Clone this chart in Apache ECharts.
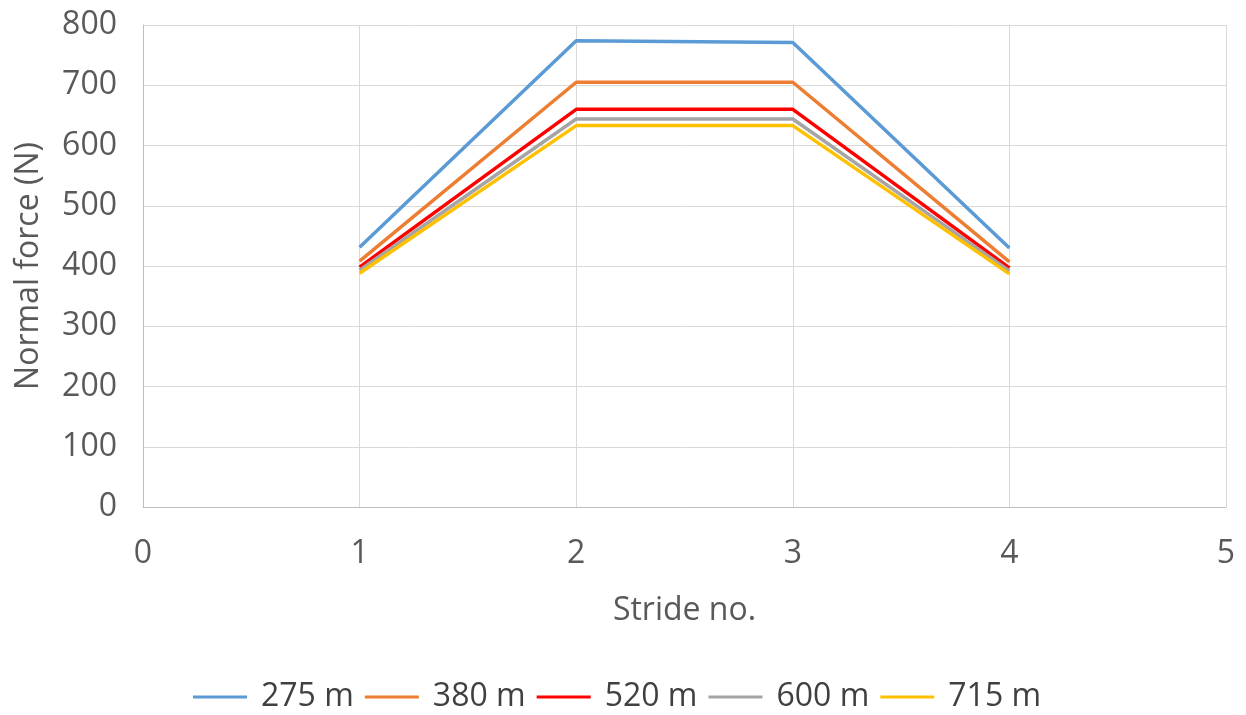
<!DOCTYPE html>
<html><head><meta charset="utf-8">
<script src="https://cdn.jsdelivr.net/npm/echarts@6/dist/echarts.min.js"></script>
<style>html,body{margin:0;padding:0;background:#fff}#c{width:1246px;height:715px}</style>
</head><body><div id="c"></div>
<script>
var strides = [1, 2, 3, 4];
var seriesNames = ['275 m', '380 m', '520 m', '600 m', '715 m'];
var s275 = [431, 774, 771, 430];
var s380 = [408, 705, 705, 407];
var s520 = [398, 660, 660, 397];
var s600 = [393, 644, 644, 392];
var s715 = [388, 633, 633, 387];
var colors = ['#5B9BD5', '#ED7D31', '#FF0000', '#A5A5A5', '#FFC000'];
var allValues = [s275, s380, s520, s600, s715];

var FONT = '"Open Sans", "DejaVu Sans", sans-serif';
var chart = echarts.init(document.getElementById('c'), null, {renderer: 'canvas'});
chart.setOption({
  animation: false,
  color: colors,
  grid: {left: 143, right: 20, top: 25, bottom: 208, containLabel: false, outerBoundsMode: 'none'},
  legend: {
    bottom: -3, left: 188, itemWidth: 54, itemHeight: 3, itemGap: 11,
    icon: 'rect',
    textStyle: {fontFamily: FONT, fontSize: 32, color: '#404040', padding: [0, 0, 0, 9]},
    data: seriesNames
  },
  xAxis: {
    type: 'value', min: 0, max: 5, interval: 1,
    name: 'Stride no.', nameLocation: 'middle', nameGap: 88,
    nameTextStyle: {fontFamily: FONT, fontSize: 32, color: '#595959'},
    axisLine: {show: true, lineStyle: {color: '#BFBFBF', width: 1}},
    axisTick: {show: false},
    axisLabel: {fontFamily: FONT, fontSize: 32, color: '#595959', margin: 31},
    splitLine: {show: true, lineStyle: {color: '#D9D9D9', width: 1}}
  },
  yAxis: {
    type: 'value', min: 0, max: 800, interval: 100,
    name: 'Normal force (N)', nameLocation: 'middle', nameGap: 98, nameRotate: 90,
    nameTextStyle: {fontFamily: FONT, fontSize: 32, color: '#595959'},
    axisLine: {show: true, lineStyle: {color: '#BFBFBF', width: 1}},
    axisTick: {show: false},
    axisLabel: {fontFamily: FONT, fontSize: 32, color: '#595959', margin: 26},
    splitLine: {show: true, lineStyle: {color: '#D9D9D9', width: 1}}
  },
  series: seriesNames.map(function (n, i) {
    return {
      name: n, type: 'line', symbol: 'none',
      lineStyle: {width: 3.5, color: colors[i]},
      data: strides.map(function (x, j) { return [x, allValues[i][j]]; })
    };
  })
});
</script></body></html>
